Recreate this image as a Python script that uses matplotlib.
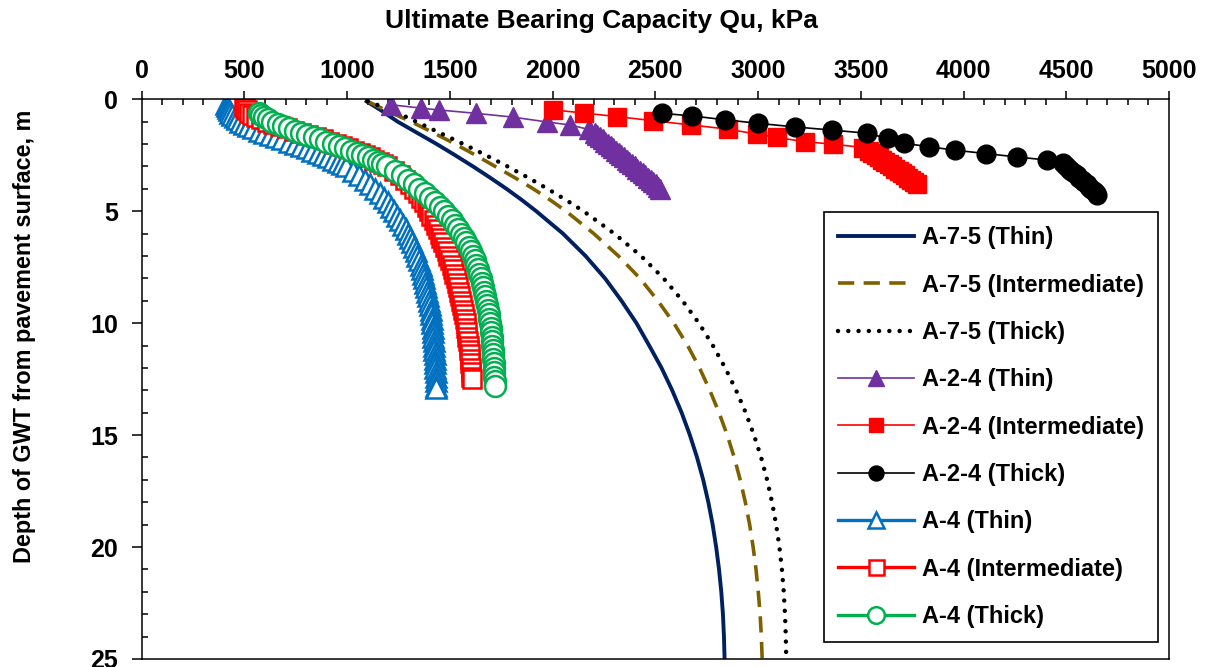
import matplotlib
matplotlib.use("Agg")
import matplotlib.pyplot as plt
from matplotlib.ticker import MultipleLocator

plt.rcParams['font.family'] = ['Liberation Sans', 'DejaVu Sans']
plt.rcParams['font.weight'] = 'bold'

# A-7-5 curves (shared depth grid)
depth_a75 = [0.1, 0.5, 1.0, 1.5, 2.0, 2.5, 3.0, 3.5, 4.0, 4.5, 5.0,
             6, 7, 8, 9, 10, 11, 12, 13, 14, 15, 16, 17, 18, 19, 20, 21, 22, 23, 24, 25]
qu_a75_thin = [1095, 1165, 1245, 1340, 1435, 1525, 1612, 1695, 1775, 1850, 1920,
               2050, 2160, 2255, 2335, 2408, 2470, 2530, 2582, 2628, 2668, 2703, 2733, 2758,
               2779, 2796, 2810, 2821, 2829, 2834, 2837]
qu_a75_inter = [1100, 1190, 1310, 1420, 1525, 1625, 1720, 1815, 1905, 1988, 2065,
                2200, 2320, 2425, 2512, 2590, 2657, 2715, 2765, 2810, 2850, 2884, 2913, 2938,
                2959, 2976, 2990, 3001, 3010, 3016, 3020]
qu_a75_thick = [1100, 1220, 1335, 1450, 1565, 1675, 1780, 1880, 1975, 2065, 2150,
                2300, 2430, 2540, 2632, 2712, 2780, 2840, 2893, 2940, 2980, 3015, 3044, 3068,
                3088, 3104, 3116, 3125, 3131, 3135, 3137]

# A-2-4 curves
depth_a24_thin = [0.25, 0.40, 0.48, 0.63, 0.80, 1.02, 1.15, 1.35,
                  1.5, 1.6, 1.7, 1.8, 1.9, 2.0, 2.1, 2.2, 2.3, 2.4, 2.5, 2.6, 2.7,
                  2.8, 2.9, 3.0, 3.1, 3.2, 3.3, 3.4, 3.5, 3.6, 3.7, 3.8, 3.9, 4.0]
qu_a24_thin = [1215, 1360, 1445, 1625, 1805, 1975, 2085, 2175,
               2205, 2218, 2231, 2244, 2257, 2270, 2283, 2296, 2309, 2322, 2335, 2348, 2361,
               2374, 2387, 2400, 2413, 2426, 2439, 2452, 2465, 2478, 2490, 2502, 2513, 2522]

depth_a24_inter = [0.48, 0.62, 0.78, 0.96, 1.15, 1.34, 1.56, 1.71, 1.90, 2.01, 2.16,
                   2.3, 2.4, 2.5, 2.6, 2.7, 2.8, 2.9, 3.0, 3.1, 3.2, 3.3, 3.4, 3.5, 3.6, 3.7, 3.8]
qu_a24_inter = [2003, 2155, 2315, 2490, 2672, 2855, 2994, 3091, 3230, 3367, 3513,
                3540, 3556, 3572, 3588, 3604, 3620, 3636, 3652, 3668, 3684, 3700, 3716, 3731,
                3746, 3760, 3774]

depth_a24_thick = [0.63, 0.75, 0.92, 1.08, 1.24, 1.38, 1.52, 1.75, 1.97, 2.12, 2.28, 2.43,
                   2.58, 2.72, 2.87, 3.0, 3.1, 3.2, 3.3, 3.4, 3.5, 3.6, 3.7, 3.8, 3.9, 4.0,
                   4.1, 4.2, 4.3]
qu_a24_thick = [2532, 2680, 2840, 3002, 3181, 3359, 3530, 3630, 3712, 3830, 3960, 4110,
                4260, 4408, 4482, 4500, 4512, 4525, 4538, 4551, 4563, 4575, 4587, 4599, 4611,
                4622, 4633, 4643, 4652]

# A-4 curves
depth_a4_thin = [0.2, 0.3, 0.4, 0.5, 0.6, 0.7, 0.8, 0.9, 1.0, 1.1,
                 1.2, 1.3, 1.4, 1.5, 1.6, 1.7, 1.8, 1.9, 2.0, 2.1,
                 2.2, 2.3, 2.4, 2.5, 2.6, 2.7, 2.8, 2.9, 3.0, 3.2,
                 3.4, 3.6, 3.8, 4.0, 4.2, 4.4, 4.6, 4.8, 5.0, 5.2,
                 5.4, 5.6, 5.8, 6.0, 6.2, 6.4, 6.6, 6.8, 7.0, 7.2,
                 7.4, 7.6, 7.8, 8.0, 8.2, 8.4, 8.6, 8.8, 9.0, 9.2,
                 9.4, 9.6, 9.8, 10.0, 10.2, 10.4, 10.6, 10.8, 11.0, 11.2,
                 11.4, 11.6, 11.8, 12.0, 12.2, 12.4, 12.6, 12.8, 12.9]
qu_a4_thin = [410, 413, 418, 424, 432, 441, 452, 465, 480, 498,
              519, 543, 569, 597, 626, 655, 685, 715, 745, 774,
              803, 831, 858, 884, 908, 931, 953, 973, 992, 1027,
              1058, 1086, 1112, 1136, 1158, 1178, 1197, 1214, 1230, 1245,
              1259, 1272, 1284, 1295, 1306, 1316, 1325, 1334, 1342, 1350,
              1357, 1364, 1370, 1376, 1381, 1386, 1391, 1395, 1399, 1403,
              1406, 1409, 1412, 1414, 1416, 1418, 1420, 1422, 1423, 1425,
              1426, 1427, 1428, 1429, 1430, 1431, 1431, 1432, 1432]

depth_a4_inter = [0.3, 0.4, 0.5, 0.6, 0.7, 0.8, 0.9, 1.0, 1.1, 1.2,
                  1.3, 1.4, 1.5, 1.6, 1.7, 1.8, 1.9, 2.0, 2.1, 2.2,
                  2.3, 2.4, 2.5, 2.6, 2.7, 2.8, 2.9, 3.0, 3.2, 3.4,
                  3.6, 3.8, 4.0, 4.2, 4.4, 4.6, 4.8, 5.0, 5.2, 5.4,
                  5.6, 5.8, 6.0, 6.2, 6.4, 6.6, 6.8, 7.0, 7.2, 7.4,
                  7.6, 7.8, 8.0, 8.2, 8.4, 8.6, 8.8, 9.0, 9.2, 9.4,
                  9.6, 9.8, 10.0, 10.2, 10.4, 10.6, 10.8, 11.0, 11.2, 11.4,
                  11.6, 11.8, 12.0, 12.2, 12.4, 12.5]
qu_a4_inter = [500, 504, 511, 521, 535, 555, 580, 610, 640, 672,
               706, 741, 776, 811, 846, 880, 913, 945, 976, 1006,
               1034, 1061, 1087, 1111, 1133, 1154, 1174, 1192, 1226, 1256,
               1282, 1305, 1326, 1344, 1360, 1374, 1387, 1399, 1410, 1421,
               1431, 1441, 1450, 1459, 1468, 1476, 1485, 1493, 1501, 1508,
               1515, 1522, 1528, 1534, 1540, 1545, 1550, 1555, 1560, 1564,
               1568, 1572, 1576, 1579, 1582, 1585, 1588, 1591, 1593, 1596,
               1598, 1600, 1602, 1604, 1605, 1606]

depth_a4_thick = [0.6, 0.7, 0.8, 0.9, 1.0, 1.1, 1.2, 1.3, 1.4, 1.5,
                  1.6, 1.7, 1.8, 1.9, 2.0, 2.1, 2.2, 2.3, 2.4, 2.5,
                  2.6, 2.7, 2.8, 2.9, 3.0, 3.2, 3.4, 3.6, 3.8, 4.0,
                  4.2, 4.4, 4.6, 4.8, 5.0, 5.2, 5.4, 5.6, 5.8, 6.0,
                  6.2, 6.4, 6.6, 6.8, 7.0, 7.2, 7.4, 7.6, 7.8, 8.0,
                  8.2, 8.4, 8.6, 8.8, 9.0, 9.2, 9.4, 9.6, 9.8, 10.0,
                  10.2, 10.4, 10.6, 10.8, 11.0, 11.2, 11.4, 11.6, 11.8, 12.0,
                  12.2, 12.4, 12.6, 12.8]
qu_a4_thick = [570, 580, 595, 614, 636, 661, 688, 716, 745, 775,
               806, 837, 868, 899, 930, 960, 990, 1019, 1047, 1074,
               1100, 1125, 1149, 1172, 1194, 1235, 1268, 1296, 1324, 1351,
               1377, 1404, 1429, 1452, 1473, 1492, 1510, 1526, 1541, 1555,
               1568, 1580, 1591, 1601, 1611, 1620, 1628, 1636, 1643, 1650,
               1656, 1662, 1667, 1672, 1677, 1681, 1685, 1689, 1692, 1695,
               1698, 1701, 1703, 1705, 1707, 1709, 1711, 1712, 1714, 1715,
               1716, 1717, 1718, 1719]

fig = plt.figure(figsize=(12.06, 6.67), dpi=100)
ax = fig.add_axes([0.1175, 0.012, 0.8518, 0.8393])

ax.plot(qu_a75_thin, depth_a75, color='#002060', lw=2.8, label='A-7-5 (Thin)')
ax.plot(qu_a75_inter, depth_a75, color='#7F6000', lw=2.6, dashes=(4.5, 2.6),
        label='A-7-5 (Intermediate)')
ax.plot(qu_a75_thick, depth_a75, color='black', lw=3.2, dashes=(0.01, 2.3),
        dash_capstyle='round', label='A-7-5 (Thick)')

ax.plot(qu_a24_thin, depth_a24_thin, color='#7030A0', lw=1.2, marker='^', ms=14.5,
        label='A-2-4 (Thin)')
ax.plot(qu_a24_inter, depth_a24_inter, color='#FF0000', lw=1.2, marker='s', ms=12.5,
        label='A-2-4 (Intermediate)')
ax.plot(qu_a24_thick, depth_a24_thick, color='black', lw=1.2, marker='o', ms=13.5,
        label='A-2-4 (Thick)')

ax.plot(qu_a4_thin, depth_a4_thin, color='#0070C0', lw=2.4, marker='^', ms=15,
        mfc='white', mew=1.8, label='A-4 (Thin)')
ax.plot(qu_a4_inter, depth_a4_inter, color='#FF0000', lw=2.4, marker='s', ms=13.5,
        mfc='white', mew=1.8, label='A-4 (Intermediate)')
ax.plot(qu_a4_thick, depth_a4_thick, color='#00B050', lw=2.4, marker='o', ms=15,
        mfc='white', mew=1.8, label='A-4 (Thick)')

ax.set_xlim(0, 5000)
ax.set_ylim(25, 0)
ax.xaxis.tick_top()
ax.xaxis.set_major_locator(MultipleLocator(500))
ax.xaxis.set_minor_locator(MultipleLocator(100))
ax.yaxis.set_major_locator(MultipleLocator(5))
ax.yaxis.set_minor_locator(MultipleLocator(1))
ax.tick_params(axis='x', which='major', direction='out', length=6, width=1.1,
               labelsize=18, pad=6, top=True, bottom=False)
ax.tick_params(axis='x', which='minor', direction='in', length=4, width=1.1,
               top=True, bottom=False)
ax.tick_params(axis='y', which='major', direction='out', length=7, width=1.1,
               labelsize=18, pad=10)
ax.tick_params(axis='y', which='minor', direction='in', length=4, width=1.1)
for s in ax.spines.values():
    s.set_linewidth(1.1)

fig.text(601 / 1206, 1 - 21 / 667, 'Ultimate Bearing Capacity Qu, kPa',
         ha='center', va='center', fontsize=19, fontweight='bold')
fig.text(25 / 1206, 1 - 336 / 667, 'Depth of GWT from pavement surface, m',
         ha='center', va='center', rotation=90, fontsize=16.8, fontweight='bold')

leg = ax.legend(loc='upper left', bbox_to_anchor=(0.6645, 0.798), borderaxespad=0,
                fontsize=17, numpoints=1, handlelength=3.2, handletextpad=0.35,
                labelspacing=1.03, borderpad=0.6, markerscale=0.8,
                fancybox=False, framealpha=1, edgecolor='black')
leg.get_frame().set_linewidth(1.2)

fig.savefig('out.png', dpi=100)
